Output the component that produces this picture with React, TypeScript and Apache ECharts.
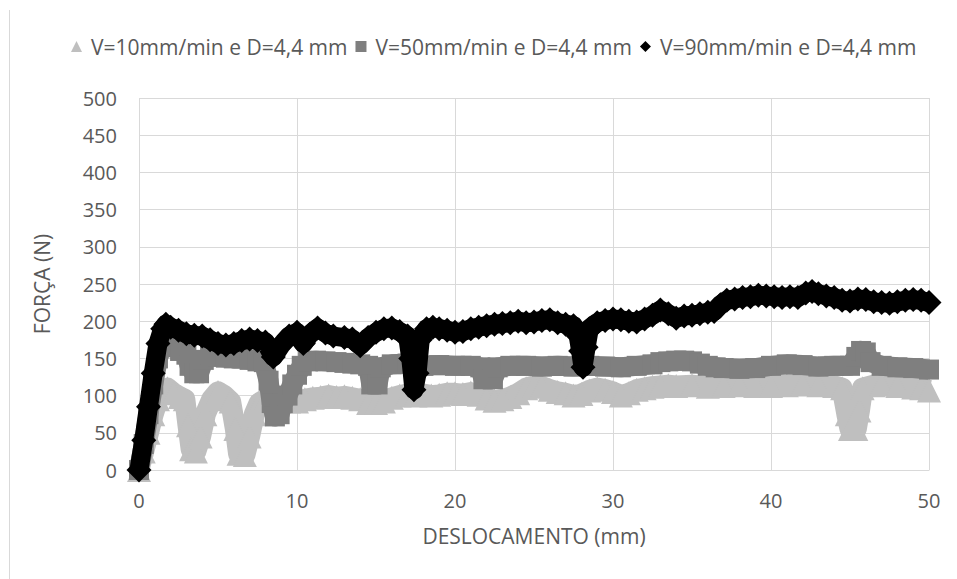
import React, { useEffect, useRef } from "react";
import * as echarts from "echarts";

// Series labels (speed V and diameter D)
const seriesNames = [
  "V=10mm/min e D=4,4 mm",
  "V=50mm/min e D=4,4 mm",
  "V=90mm/min e D=4,4 mm",
];

const seriesColors = ["#BFBFBF", "#7F7F7F", "#000000"];

const xTicks = { min: 0, max: 50, interval: 10 };
const yTicks = { min: 0, max: 500, interval: 50 };

// [deslocamento (mm), força (N)]
const v10Points: [number, number][] = [
  [0, 0], [0.3, 25], [0.6, 50], [0.9, 75], [1.2, 95], [1.5, 108], [1.8, 110],
  [2.2, 103], [2.6, 98], [2.9, 95], [3.1, 60], [3.3, 28], [3.6, 25], [3.9, 45],
  [4.2, 75], [4.6, 95], [5.0, 105], [5.4, 100], [5.8, 92], [6.1, 55], [6.3, 22],
  [6.7, 20], [7.0, 45], [7.3, 75], [7.6, 90], [8.0, 95], [8.5, 93], [9.0, 92],
  [9.5, 92], [10.0, 92], [10.5, 95], [11.0, 97], [11.5, 98], [12.0, 100],
  [12.5, 98], [13.0, 99], [13.5, 97], [14.0, 95], [14.5, 90], [15.0, 90],
  [15.5, 92], [16.0, 97], [16.5, 100], [17.0, 102], [17.5, 100], [18.0, 102],
  [18.5, 100], [19.0, 101], [19.5, 103], [20.0, 103], [20.5, 102], [21.0, 104],
  [21.5, 101], [22.0, 96], [22.5, 93], [23.0, 95], [23.5, 98], [24.0, 103],
  [24.5, 110], [25.0, 113], [25.5, 112], [26.0, 108], [26.5, 105], [27.0, 103],
  [27.5, 100], [28.0, 102], [28.5, 107], [29.0, 110], [29.5, 108], [30.0, 105],
  [30.5, 100], [31.0, 103], [31.5, 108], [32.0, 110], [32.5, 112], [33.0, 113],
  [33.5, 114], [34.0, 113], [35.0, 114], [36.0, 112], [37.0, 113], [38.0, 114],
  [39.0, 113], [40.0, 113], [41.0, 114], [42.0, 115], [43.0, 114], [44.0, 113],
  [44.5, 110], [44.8, 75], [45.0, 55], [45.4, 55], [45.6, 80], [45.8, 110],
  [46.5, 114], [47.0, 115], [48.0, 113], [49.0, 111], [49.5, 110], [50.0, 107],
];

const v50Points: [number, number][] = [
  [0, 0], [0.3, 35], [0.6, 75], [0.9, 115], [1.2, 150], [1.5, 170], [1.8, 172],
  [2.2, 165], [2.6, 160], [3.0, 155], [3.2, 140], [3.5, 130], [3.8, 130],
  [4.1, 148], [4.5, 155], [5.0, 152], [5.5, 151], [6.0, 150], [6.5, 150],
  [7.0, 148], [7.5, 146], [7.9, 145], [8.2, 120], [8.4, 90], [8.6, 72],
  [8.9, 75], [9.1, 90], [9.4, 100], [9.7, 115], [10.0, 128], [10.3, 140],
  [10.7, 146], [11.2, 147], [11.8, 146], [12.5, 145], [13.0, 144], [13.5, 143],
  [14.0, 142], [14.5, 140], [14.7, 115], [15.1, 115], [15.3, 138], [16.0, 142],
  [17.0, 143], [18.0, 140], [19.0, 141], [20.0, 140], [21.0, 140], [21.6, 138],
  [21.8, 122], [22.4, 122], [22.7, 138], [23.5, 140], [24.5, 140], [25.5, 139],
  [26.5, 140], [27.5, 139], [28.5, 140], [29.5, 139], [30.5, 138], [31.5, 140],
  [32.5, 142], [33.0, 145], [33.5, 146], [34.0, 147], [34.5, 147], [35.0, 146],
  [35.5, 143], [36.0, 140], [36.5, 138], [37.0, 137], [38.0, 136], [39.0, 137],
  [40.0, 140], [41.0, 142], [42.0, 141], [43.0, 139], [44.0, 140], [45.0, 140],
  [45.4, 152], [45.7, 160], [46.0, 158], [46.3, 145], [47.0, 140], [48.0, 138],
  [49.0, 137], [50.0, 135],
];

const v90Points: [number, number][] = [
  [0, 0], [0.3, 40], [0.6, 85], [0.9, 130], [1.2, 170], [1.5, 190], [1.7, 196],
  [2.0, 192], [2.5, 188], [3.0, 183], [3.5, 181], [4.0, 180], [4.5, 175],
  [5.0, 170], [5.5, 168], [6.0, 170], [6.5, 174], [7.0, 176], [7.5, 174],
  [8.0, 172], [8.5, 152], [9.0, 168], [9.5, 180], [10.0, 185], [10.4, 170],
  [10.8, 182], [11.3, 191], [11.8, 184], [12.3, 180], [13.0, 178], [13.5, 176],
  [14.0, 167], [14.5, 178], [15.0, 185], [15.5, 190], [16.0, 191], [16.5, 186],
  [17.0, 180], [17.2, 150], [17.4, 108], [17.6, 130], [17.8, 175], [18.2, 190],
  [18.6, 192], [19.0, 190], [19.5, 188], [20.0, 185], [20.5, 186], [21.0, 190],
  [21.5, 192], [22.0, 194], [22.5, 196], [23.0, 197], [23.5, 198], [24.0, 200],
  [24.5, 198], [25.0, 199], [25.5, 201], [26.0, 202], [26.5, 198], [27.0, 196],
  [27.5, 194], [27.8, 180], [27.95, 160], [28.1, 138], [28.3, 165], [28.5, 190],
  [29.0, 198], [29.5, 201], [30.0, 203], [30.5, 202], [31.0, 200], [31.5, 199],
  [32.0, 203], [32.5, 208], [33.0, 215], [33.5, 210], [34.0, 204], [34.5, 207],
  [35.0, 208], [35.5, 210], [36.0, 212], [36.4, 213], [36.8, 222], [37.2, 228],
  [37.7, 230], [38.2, 232], [38.7, 233], [39.2, 235], [39.7, 234], [40.2, 233],
  [40.7, 232], [41.2, 233], [41.7, 232], [42.2, 238], [42.6, 240], [43.0, 237],
  [43.5, 234], [44.0, 232], [44.5, 228], [45.0, 227], [45.5, 230], [46.0, 229],
  [46.5, 226], [47.0, 225], [47.5, 224], [48.0, 226], [48.5, 228], [49.0, 229],
  [49.5, 228], [50.0, 225],
];

const xAxisTitle = "DESLOCAMENTO (mm)";
const yAxisTitle = "FORÇA (N)";

const FONT = "'Open Sans', 'Noto Sans', sans-serif";
const TEXT_COLOR = "#595959";
const GRID_COLOR = "#D9D9D9";

export default function App() {
  const ref = useRef<HTMLDivElement>(null);

  useEffect(() => {
    if (!ref.current) return;
    const chart = echarts.init(ref.current, null, { renderer: "svg" });

    // Thick line plus a marker at every measured point, so the curve reads as a
    // dense band of markers.
    const band = (
      name: string,
      data: [number, number][],
      color: string,
      symbol: string,
      symbolSize: number,
      width: number,
      z: number
    ) => ({
      name,
      type: "line",
      data,
      z,
      symbol,
      symbolSize,
      showAllSymbol: true,
      itemStyle: { color, borderWidth: 0 },
      lineStyle: { color, width, join: "round" },
      emphasis: { disabled: true },
    });

    chart.setOption({
      animation: false,
      backgroundColor: "#ffffff",
      textStyle: { fontFamily: FONT },
      legend: {
        top: 31,
        left: 66,
        itemWidth: 11,
        itemHeight: 11,
        itemGap: 8,
        textStyle: {
          color: TEXT_COLOR,
          fontSize: 21,
          fontFamily: FONT,
          padding: [0, 0, 0, 4],
        },
        data: [
          { name: seriesNames[0], icon: "triangle", itemStyle: { color: seriesColors[0] } },
          { name: seriesNames[1], icon: "rect", itemStyle: { color: seriesColors[1] } },
          { name: seriesNames[2], icon: "diamond", itemStyle: { color: seriesColors[2] } },
        ],
      },
      grid: { left: 139, right: 28, top: 98, bottom: 109, containLabel: false },
      xAxis: {
        type: "value",
        min: xTicks.min,
        max: xTicks.max,
        interval: xTicks.interval,
        name: xAxisTitle,
        nameLocation: "middle",
        nameGap: 55,
        nameTextStyle: { color: TEXT_COLOR, fontSize: 21, fontFamily: FONT },
        axisLine: { show: true, lineStyle: { color: GRID_COLOR, width: 1 } },
        axisTick: { show: false },
        axisLabel: { color: TEXT_COLOR, fontSize: 20, margin: 20, fontFamily: FONT },
        splitLine: { show: true, lineStyle: { color: GRID_COLOR, width: 1 } },
      },
      yAxis: {
        type: "value",
        min: yTicks.min,
        max: yTicks.max,
        interval: yTicks.interval,
        name: yAxisTitle,
        nameLocation: "middle",
        nameGap: 87,
        nameRotate: 90,
        nameTextStyle: { color: TEXT_COLOR, fontSize: 21, fontFamily: FONT },
        axisLine: { show: false },
        axisTick: { show: false },
        axisLabel: { color: TEXT_COLOR, fontSize: 20, margin: 22, fontFamily: FONT },
        splitLine: { show: true, lineStyle: { color: GRID_COLOR, width: 1 } },
      },
      graphic: [
        {
          type: "line",
          shape: { x1: 9.5, y1: 10, x2: 9.5, y2: 579 },
          style: { stroke: GRID_COLOR, lineWidth: 1 },
          silent: true,
        },
      ],
      series: [
        band(seriesNames[0], v10Points, seriesColors[0], "triangle", 24, 21, 2),
        band(seriesNames[1], v50Points, seriesColors[1], "rect", 20, 20, 3),
        band(seriesNames[2], v90Points, seriesColors[2], "diamond", 25, 19, 4),
      ],
    });

    return () => chart.dispose();
  }, []);

  return (
    <div
      ref={ref}
      style={{
        position: "absolute",
        left: 0,
        top: 0,
        width: 957,
        height: 579,
        background: "#ffffff",
      }}
    />
  );
}
